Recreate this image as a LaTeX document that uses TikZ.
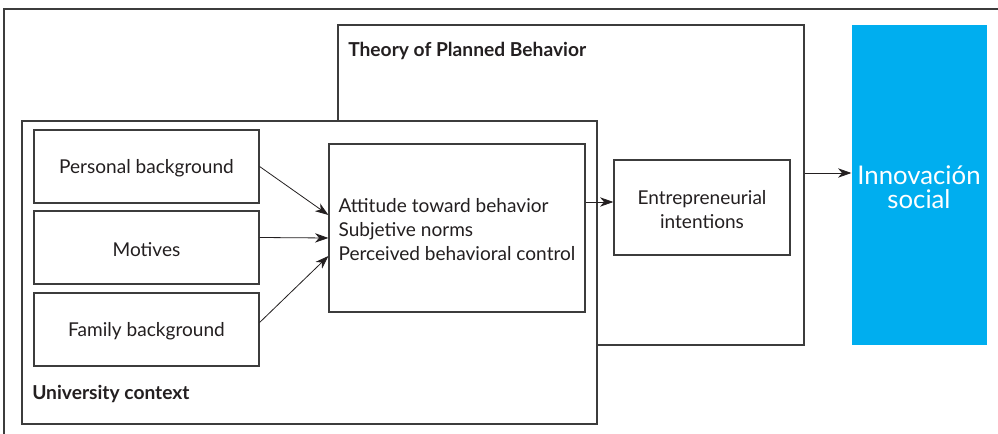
\documentclass[tikz,border=0pt]{standalone}
\usepackage{fontspec}
\setmainfont{Lato}
\usetikzlibrary{arrows.meta, fit, calc}

\definecolor{framegray}{HTML}{3C3C3C}
\definecolor{inkblack}{HTML}{231F20}
\definecolor{socialblue}{HTML}{00AEEF}

\begin{document}
\begin{tikzpicture}[x=0.75pt, y=-0.75pt,
  box/.style={draw=framegray, line width=0.9pt, inner sep=0pt},
  boxtext/.style={inner sep=0pt, text=inkblack, align=center, yshift=-1.5pt,
    font=\fontsize{14.3}{18}\selectfont},
  title/.style={anchor=west, inner sep=0pt, text=inkblack,
    font=\bfseries\fontsize{14.4}{18}\selectfont},
  link/.style={-{Stealth[length=10pt, width=7pt, inset=3pt]}, draw=inkblack, line width=0.6pt}]

\useasboundingbox (0,0) rectangle (998,434);
\draw[framegray, line width=0.9pt] (998,9) -- (4,9) -- (4,434);

% theory of planned behavior
\node[box, fit={(338,25) (804,345)}] (tpb) {};
\node[title] (tpbtitle) at (348,51) {Theory of Planned Behavior};

% university context
\node[box, fill=white, fit={(22,121) (597,424)}] (univ) {};
\node[title] (univtitle) at (32,394) {University context};

\node[box, fit={(34,130) (259,203)}, label={[boxtext]center:Personal background}] (personal) {};
\node[box, fit={(34,211) (259,284)}, label={[boxtext]center:Motives}] (motives) {};
\node[box, fit={(34,293) (259,366)}, label={[boxtext]center:Family background}] (family) {};

\node[box, fit={(329,144) (585,312)},
  label={[boxtext, align=left]center:Attitude toward behavior\\Subjetive norms\\Perceived behavioral control}] (attitude) {};
\node[box, fit={(614,160) (790,255)},
  label={[boxtext]center:Entrepreneurial\\intentions}] (intentions) {};

% outcome
\node[box, draw=none, fill=socialblue, fit={(852,25) (987,345)}] (social) {};
\node[anchor=north, inner sep=0pt, text=white, align=center,
  font=\fontsize{19.3}{18}\selectfont] (socialtext) at (919,165) {Innovación\\social};

\draw[link] (personal.east) -- ($(attitude.west)+(0,-13)$);
\draw[link] ($(motives.east)+(0,-10)$) -- ($(attitude.west)+(0,10)$);
\draw[link] ($(family.east)+(0,-7)$) -- ($(attitude.west)+(0,28)$);
\draw[link] ($(attitude.east)+(0,-26)$) -- ($(intentions.west)+(0,-5.5)$);
\draw[link] ($(tpb.east)+(0,-12)$) -- ($(social.west)+(0,-12)$);
\end{tikzpicture}
\end{document}
